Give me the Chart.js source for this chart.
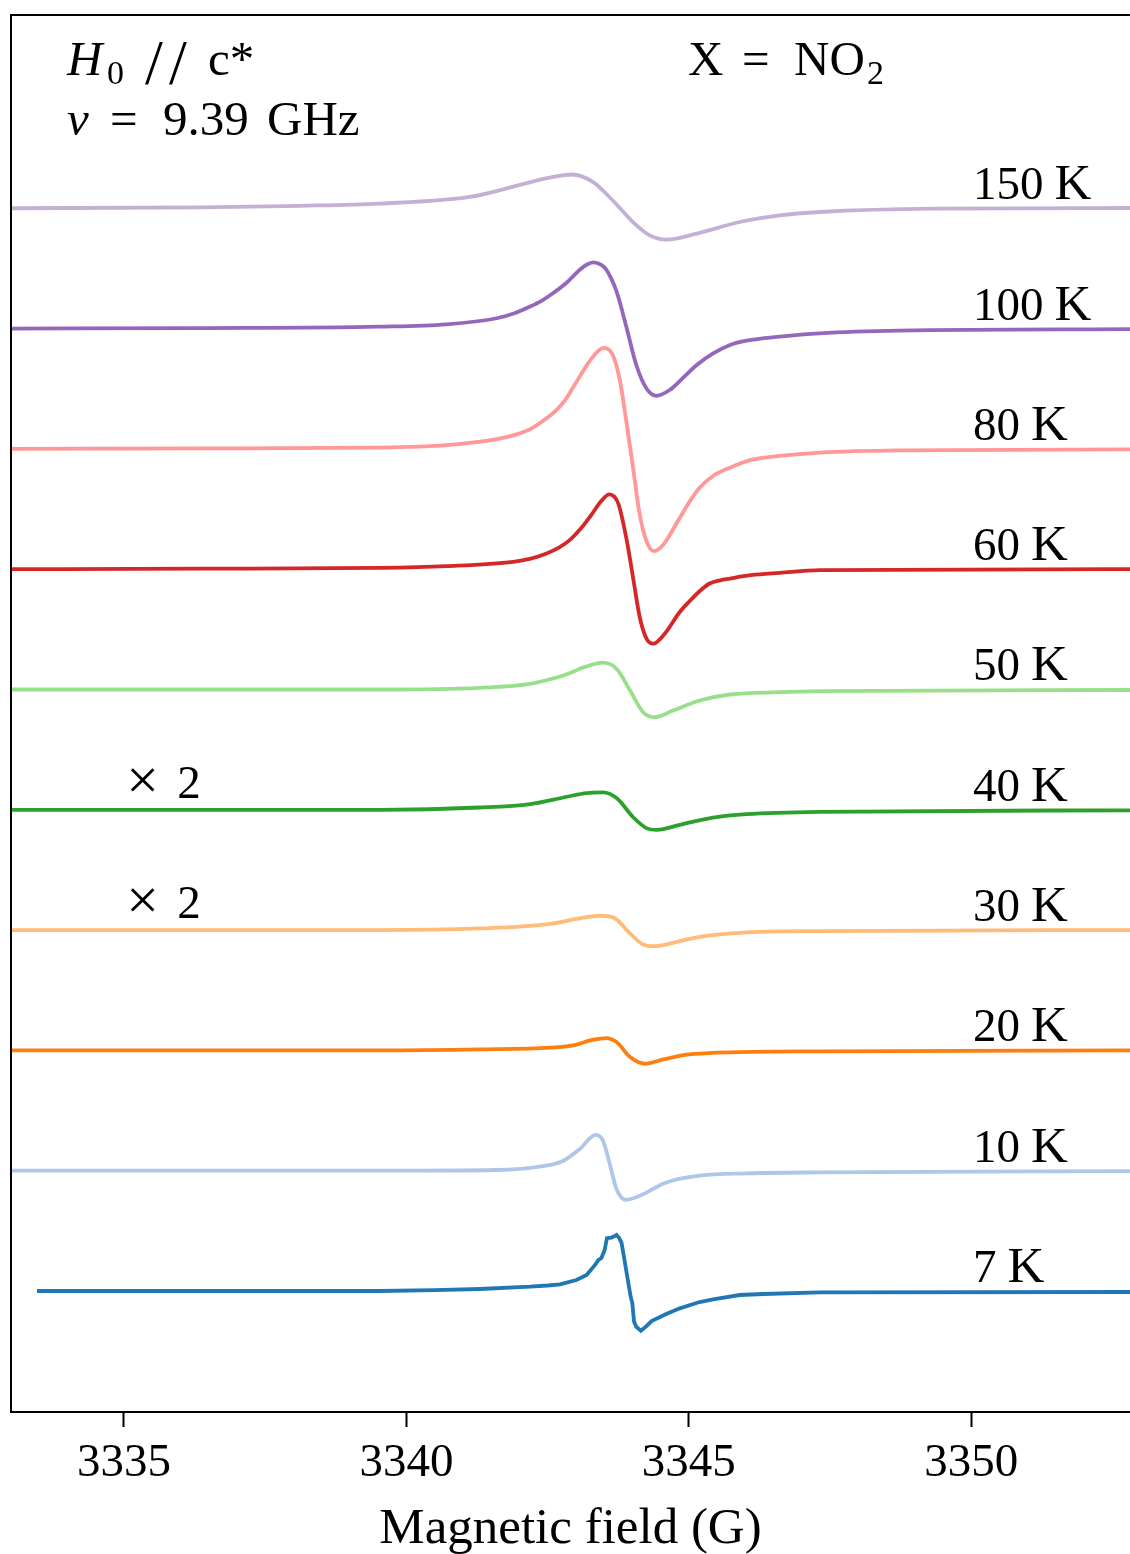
<!DOCTYPE html>
<html>
<head>
<meta charset="utf-8">
<script src="https://cdn.jsdelivr.net/npm/chart.js@4.4.1/dist/chart.umd.min.js"></script>
<style>
    html, body { margin: 0; padding: 0; background: #fff; }
    #wrap { width: 1130px; height: 1554px; position: relative; }
</style>
</head>
<body>
<div id="wrap"><canvas id="esrChart"></canvas></div>
<script>
// ================================================
// EPR spectra vs temperature (X = NO2)
// ================================================

// x ticks (G)
const xTicks = [3335, 3340, 3345, 3350];

// trace labels, top to bottom
const temps = ['150', '100', '80', '60', '50', '40', '30', '20', '10', '7'];
const gainLabels = ['', '', '', '', '', '2', '2', '', '', ''];

// field (G) and signal (a.u.), per temperature
const field150 = [3332.9, 3336.35, 3338.12, 3339.53, 3341.12, 3341.88, 3342.49, 3342.93, 3343.30, 3343.65, 3344.01, 3344.31, 3344.61, 3345.14, 3345.90, 3346.61, 3347.32, 3349.32, 3352.9];
const sig150   = [0, 0.1, 0.25, 0.47, 1.13, 2.13, 3.0, 3.37, 2.63, 0.8, -1.37, -2.7, -3.13, -2.53, -1.37, -0.7, -0.37, -0.03, 0.03];

const field100 = [3332.9, 3336.35, 3339.53, 3340.71, 3341.60, 3341.90, 3342.19, 3342.40, 3342.60, 3342.84, 3343.07, 3343.19, 3343.31, 3343.45, 3343.54, 3343.72, 3343.90, 3344.07, 3344.25, 3344.43, 3344.66, 3344.90, 3345.14, 3345.43, 3345.73, 3346.02, 3346.61, 3347.32, 3348.73, 3352.9];
const sig100   = [0, 0.05, 0.2, 0.43, 1.03, 1.5, 2.2, 2.8, 3.55, 4.6, 5.87, 6.37, 6.6, 6.35, 5.87, 3.7, 0.03, -3.63, -5.97, -6.7, -6.13, -4.9, -3.63, -2.47, -1.63, -1.2, -0.8, -0.47, -0.2, -0.05];

const field80 = [3332.9, 3336.35, 3339.53, 3340.71, 3341.60, 3341.95, 3342.19, 3342.42, 3342.66, 3342.81, 3342.95, 3343.25, 3343.42, 3343.50, 3343.66, 3343.78, 3343.90, 3344.02, 3344.13, 3344.25, 3344.38, 3344.55, 3344.84, 3345.02, 3345.19, 3345.43, 3345.73, 3346.10, 3346.61, 3347.32, 3348.73, 3352.9];
const sig80   = [0, 0.05, 0.13, 0.37, 0.97, 1.45, 1.97, 2.8, 3.9, 4.87, 6.13, 8.8, 9.9, 10.07, 9.3, 6.8, 2.47, -2.2, -6.53, -9.2, -10.2, -9.53, -6.87, -5.2, -3.87, -2.7, -1.87, -1.1, -0.7, -0.37, -0.15, -0.05];

const field60 = [3332.9, 3336.35, 3339.53, 3340.71, 3341.89, 3342.20, 3342.48, 3342.70, 3342.89, 3343.08, 3343.25, 3343.45, 3343.59, 3343.75, 3343.90, 3344.02, 3344.13, 3344.25, 3344.37, 3344.55, 3344.84, 3345.02, 3345.19, 3345.36, 3345.55, 3345.73, 3346.10, 3346.61, 3347.32, 3352.9];
const sig60   = [0, 0.05, 0.13, 0.3, 0.73, 1.05, 1.57, 2.15, 2.9, 4.0, 5.23, 6.8, 7.47, 6.57, 2.9, -1.1, -4.77, -6.93, -7.43, -6.6, -4.27, -3.15, -2.2, -1.45, -1.12, -0.93, -0.6, -0.37, -0.1, 0];

const field50 = [3332.9, 3339.53, 3341.30, 3342.19, 3342.50, 3342.78, 3343.19, 3343.48, 3343.72, 3343.96, 3344.19, 3344.40, 3344.72, 3345.19, 3345.73, 3346.61, 3347.32, 3352.9];
const sig50   = [0, 0, 0.17, 0.57, 0.95, 1.4, 2.3, 2.67, 2.07, -0.1, -2.27, -2.77, -2.1, -1.1, -0.5, -0.27, -0.17, -0.05];

const field40 = [3332.9, 3339.53, 3341.30, 3342.19, 3342.84, 3343.19, 3343.48, 3343.72, 3344.02, 3344.25, 3344.43, 3344.84, 3345.43, 3346.02, 3347.32, 3352.9];
const sig40   = [0, 0, 0.23, 0.57, 1.3, 1.67, 1.73, 1.17, -0.77, -1.83, -2.0, -1.5, -0.77, -0.43, -0.2, -0.05];

const field30 = [3332.9, 3339.53, 3341.30, 3342.48, 3343.07, 3343.42, 3343.66, 3343.96, 3344.19, 3344.40, 3344.84, 3345.19, 3345.90, 3347.32, 3352.9];
const sig30   = [0, 0, 0.17, 0.57, 1.17, 1.43, 1.27, -0.33, -1.43, -1.6, -1.1, -0.67, -0.27, -0.1, 0];

const field20 = [3332.9, 3339.53, 3341.30, 3342.54, 3342.95, 3343.31, 3343.54, 3343.72, 3343.96, 3344.22, 3344.55, 3344.96, 3345.90, 3347.32, 3352.9];
const sig20   = [0, 0, 0.1, 0.27, 0.5, 1.07, 1.23, 0.83, -0.67, -1.33, -0.9, -0.43, -0.17, -0.1, 0];

const field10 = [3332.9, 3339.53, 3341.60, 3342.36, 3342.78, 3343.07, 3343.35, 3343.48, 3343.60, 3343.72, 3343.88, 3344.13, 3344.60, 3345.19, 3346.02, 3347.32, 3352.9];
const sig10   = [0, 0, 0.07, 0.4, 1.0, 2.17, 3.57, 3.0, 0.67, -1.83, -2.9, -2.5, -1.17, -0.5, -0.27, -0.17, -0.05];

const field7 = [3333.46, 3339.53, 3340.50, 3341.30, 3342.19, 3342.50, 3342.72, 3343.01, 3343.19, 3343.34, 3343.40, 3343.45, 3343.51, 3343.55, 3343.63, 3343.67, 3343.72, 3343.77, 3343.81, 3343.90, 3343.97, 3344.00, 3344.03, 3344.07, 3344.15, 3344.25, 3344.34, 3344.60, 3344.84, 3345.19, 3345.43, 3345.90, 3346.32, 3347.32, 3352.9];
const sig7   = [0, 0, 0.08, 0.2, 0.43, 0.55, 0.67, 1.1, 1.6, 2.6, 3.1, 3.27, 4.1, 5.27, 5.33, 5.43, 5.6, 5.27, 4.77, 1.77, -0.57, -1.23, -3.07, -3.57, -3.97, -3.5, -3.0, -2.3, -1.73, -1.1, -0.83, -0.4, -0.3, -0.13, -0.1];

const fields  = [field150, field100, field80, field60, field50, field40, field30, field20, field10, field7];
const signals = [sig150, sig100, sig80, sig60, sig50, sig40, sig30, sig20, sig10, sig7];
const colors  = ['#c5b0d5', '#9467bd', '#ff9896', '#d62728', '#98df8a', '#2ca02c', '#ffbb78', '#ff7f0e', '#aec7e8', '#1f77b4'];

const SPACING = 12; // vertical offset between traces
const FONT = "'Liberation Serif', 'DejaVu Serif', serif";
const FS = 47;

function offsetOf(i) {
    return (temps.length - i) * SPACING;
}

const datasets = temps.map((t, i) => ({
    label: t + ' K',
    data: fields[i].map((b, k) => ({ x: b, y: signals[i][k] + offsetOf(i) })),
    borderColor: colors[i],
    borderWidth: 3.8,
    pointRadius: 0,
    fill: false,
    clip: 0,
    tension: i === temps.length - 1 ? 0 : 0.4,
    cubicInterpolationMode: i === temps.length - 1 ? 'default' : 'monotone'
}));

// text pieces placed at offsets (px) from the plot's left edge
function drawPieces(ctx, left, baseY, pieces) {
    pieces.forEach(p => {
        const fs = p.size || (p.sub ? 34 : 49);
        ctx.font = (p.italic ? 'italic ' : '') + fs + 'px ' + FONT;
        ctx.fillText(p.t, left + p.dx, baseY + (p.sub ? 9 : 0) + (p.dy || 0));
    });
}

const annotations = {
    id: 'annotations',
    afterDraw(chart) {
        const { ctx, chartArea: a, scales: { x, y } } = chart;
        ctx.save();

        // left and top spines
        ctx.strokeStyle = '#000';
        ctx.lineWidth = 2;
        ctx.beginPath();
        ctx.moveTo(a.left, a.bottom);
        ctx.lineTo(a.left, a.top);
        ctx.lineTo(a.right + 2, a.top);
        ctx.stroke();

        ctx.fillStyle = '#000';
        ctx.textBaseline = 'alphabetic';
        ctx.textAlign = 'left';

        // temperature labels and gain factors
        temps.forEach((t, i) => {
            const base = y.getPixelForValue(offsetOf(i));
            const lx = x.getPixelForValue(3350.03);
            ctx.font = FS + 'px ' + FONT;
            ctx.fillText(t, lx, base - 9);
            const tw = ctx.measureText(t).width;
            ctx.font = '51px ' + FONT;
            ctx.fillText('K', lx + tw + 11, base - 9);
            if (gainLabels[i]) {
                const gx = x.getPixelForValue(3335.11);
                ctx.font = '58px ' + FONT;
                ctx.fillText('\u00d7', gx - 4, base - 11);
                ctx.font = FS + 'px ' + FONT;
                ctx.fillText(gainLabels[i], gx + 47, base - 12);
            }
        });

        // header texts
        const top1 = a.top + 60, top2 = a.top + 120;
        drawPieces(ctx, a.left, top1, [
            { t: 'H', italic: true, dx: 56 }, { t: '0', sub: true, dx: 96 },
            { t: '/', size: 64, dx: 134, dy: 9 }, { t: '/', size: 64, dx: 158, dy: 9 },
            { t: 'c*', dx: 197 }
        ]);
        drawPieces(ctx, a.left, top2, [
            { t: '\u03bd', italic: true, dx: 56 }, { t: '=', dx: 99 },
            { t: '9.39', dx: 152 }, { t: 'GHz', dx: 256 }
        ]);
        drawPieces(ctx, a.left, top1, [
            { t: 'X', dx: 677 }, { t: '=', dx: 731 },
            { t: 'NO', dx: 783 }, { t: '2', sub: true, dx: 856 }
        ]);

        ctx.restore();
    }
};

new Chart(document.getElementById('esrChart'), {
    type: 'line',
    data: { datasets },
    options: {
        responsive: true,
        maintainAspectRatio: false,
        animation: false,
        layout: { padding: { left: 11, top: 15, right: 0, bottom: 0 } },
        plugins: {
            legend: { display: false },
            tooltip: { enabled: false }
        },
        scales: {
            x: {
                type: 'linear',
                min: 3333.0,
                max: 3352.81,
                afterBuildTicks: s => { s.ticks = xTicks.map(v => ({ value: v })); },
                afterFit: s => { s.height = 142; },
                grid: {
                    drawOnChartArea: false,
                    drawTicks: true,
                    tickLength: 15,
                    tickWidth: 2,
                    tickColor: '#000'
                },
                border: { display: true, color: '#000', width: 2 },
                ticks: {
                    color: '#000',
                    padding: 8,
                    maxRotation: 0,
                    autoSkip: false,
                    font: { family: FONT, size: FS },
                    callback: v => String(v)
                },
                title: {
                    display: true,
                    text: 'Magnetic field (G)',
                    color: '#000',
                    padding: { top: 0, bottom: -6 },
                    font: { family: FONT, size: 51 }
                }
            },
            y: {
                display: false,
                min: -0.07,
                max: 139.28
            }
        }
    },
    plugins: [annotations]
});
</script>
</body>
</html>
